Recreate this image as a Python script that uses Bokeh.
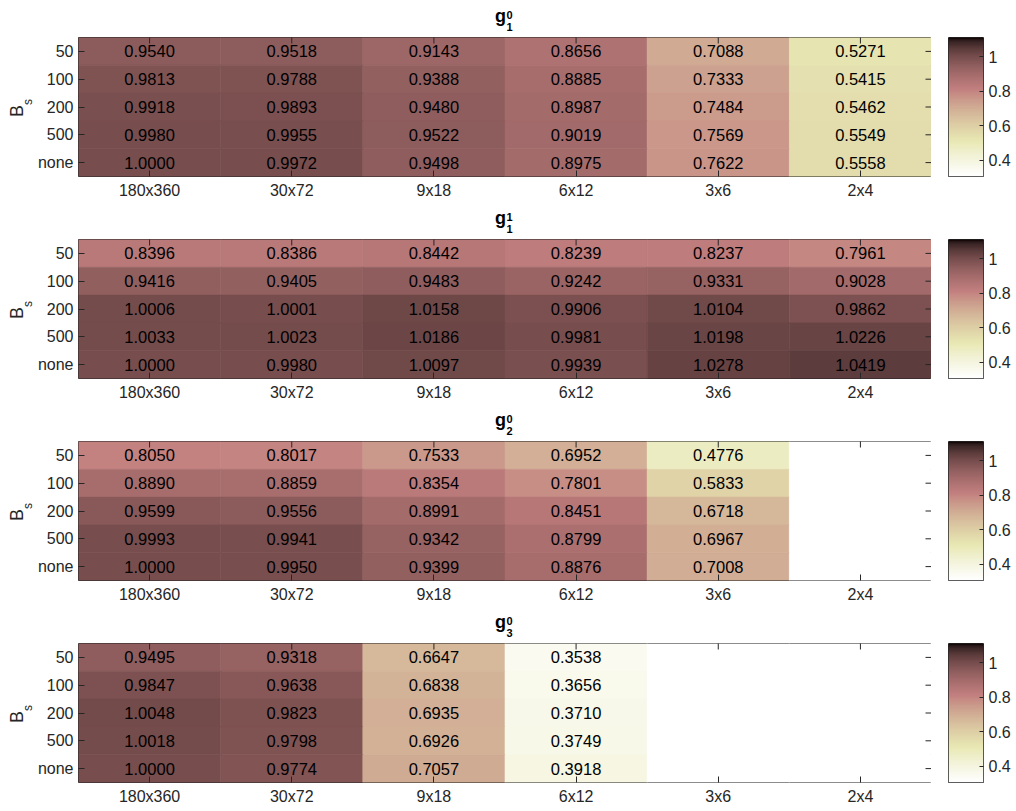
import numpy as np
from bokeh.plotting import figure
from bokeh.models import (FactorRange, Range1d, LinearColorMapper, ColumnDataSource,
                          FixedTicker, CustomJSTickFormatter, Div)
from bokeh.layouts import column, row
from bokeh.embed import file_html
from bokeh.resources import INLINE
from bokeh.core.properties import value

nan = float("nan")

# ---------------- data ----------------
grids = ["180x360", "30x72", "9x18", "6x12", "3x6", "2x4"]
bs_labels = ["50", "100", "200", "500", "none"]

g1_0 = [[0.9540, 0.9518, 0.9143, 0.8656, 0.7088, 0.5271],
        [0.9813, 0.9788, 0.9388, 0.8885, 0.7333, 0.5415],
        [0.9918, 0.9893, 0.9480, 0.8987, 0.7484, 0.5462],
        [0.9980, 0.9955, 0.9522, 0.9019, 0.7569, 0.5549],
        [1.0000, 0.9972, 0.9498, 0.8975, 0.7622, 0.5558]]
g1_1 = [[0.8396, 0.8386, 0.8442, 0.8239, 0.8237, 0.7961],
        [0.9416, 0.9405, 0.9483, 0.9242, 0.9331, 0.9028],
        [1.0006, 1.0001, 1.0158, 0.9906, 1.0104, 0.9862],
        [1.0033, 1.0023, 1.0186, 0.9981, 1.0198, 1.0226],
        [1.0000, 0.9980, 1.0097, 0.9939, 1.0278, 1.0419]]
g2_0 = [[0.8050, 0.8017, 0.7533, 0.6952, 0.4776, nan],
        [0.8890, 0.8859, 0.8354, 0.7801, 0.5833, nan],
        [0.9599, 0.9556, 0.8991, 0.8451, 0.6718, nan],
        [0.9993, 0.9941, 0.9342, 0.8799, 0.6967, nan],
        [1.0000, 0.9950, 0.9399, 0.8876, 0.7008, nan]]
g3_0 = [[0.9495, 0.9318, 0.6647, 0.3538, nan, nan],
        [0.9847, 0.9638, 0.6838, 0.3656, nan, nan],
        [1.0048, 0.9823, 0.6935, 0.3710, nan, nan],
        [1.0018, 0.9798, 0.6926, 0.3749, nan, nan],
        [1.0000, 0.9774, 0.7057, 0.3918, nan, nan]]

panels = [g1_0, g1_1, g2_0, g3_0]
title_sub = ["1", "1", "2", "3"]
title_sup = ["0", "1", "0", "0"]

clim_low, clim_high = 0.307, 1.11
cbar_ticks = [0.4, 0.6, 0.8, 1.0]

# ---------------- colormap: MATLAB pink, flipped ----------------
def pink_palette(m=256):
    n = int(3 / 8 * m)
    gray = np.arange(m) / (m - 1)
    r = np.concatenate([np.arange(1, n + 1) / n, np.ones(m - n)])
    g = np.concatenate([np.zeros(n), np.arange(1, n + 1) / n, np.ones(m - 2 * n)])
    b = np.concatenate([np.zeros(2 * n), np.arange(1, m - 2 * n + 1) / (m - 2 * n)])
    hot = np.stack([r, g, b], axis=1)
    pk = np.sqrt((2 * gray[:, None] + hot) / 3)
    return ["#%02x%02x%02x" % tuple(int(round(c * 255)) for c in rgb) for rgb in pk]

palette = pink_palette()[::-1]
mapper = LinearColorMapper(palette=palette, low=clim_low, high=clim_high, nan_color="white")

FONT = "Liberation Sans"
TXT = "#262626"
FW, FH = 853, 139
TOP = 4          # figure border above frame
BOTTOM = 26      # figure border below frame
TITLE_H = 33     # height of title strip
YLAB_W = 34      # width of y-label strip
FIG_H = TOP + FH + BOTTOM


def style_axis(ax, standoff, tick_in=6):
    ax.major_tick_in = tick_in
    ax.major_tick_out = 0
    ax.minor_tick_line_color = None
    ax.axis_line_color = None
    ax.major_tick_line_color = TXT
    ax.major_label_text_font = FONT
    ax.major_label_text_font_size = "16px"
    ax.major_label_text_color = TXT
    ax.major_label_standoff = standoff


def heat_panel(vals):
    p = figure(x_range=FactorRange(factors=grids), y_range=FactorRange(factors=bs_labels[::-1]),
               frame_width=FW, frame_height=FH, min_border_left=77 - YLAB_W, min_border_right=0,
               min_border_top=TOP, min_border_bottom=BOTTOM,
               output_backend="svg", toolbar_location=None, tools="")
    xs, ys, vs = [], [], []
    tx, ty, tt = [], [], []
    for i, rlab in enumerate(bs_labels):
        for j, clab in enumerate(grids):
            v = vals[i][j]
            xs.append(clab); ys.append(rlab); vs.append(v)
            if not np.isnan(v):
                tx.append(clab); ty.append(rlab); tt.append("%.4f" % v)
    src = ColumnDataSource(dict(x=xs, y=ys, v=vs))
    p.rect(x="x", y="y", width=1, height=1, source=src,
           fill_color={"field": "v", "transform": mapper},
           line_color={"field": "v", "transform": mapper}, line_width=0.6)
    tsrc = ColumnDataSource(dict(x=tx, y=ty, t=tt))
    p.text(x="x", y="y", text="t", source=tsrc, text_align="center", text_baseline="middle",
           text_font=value(FONT), text_font_size="16.5px", text_color="black")

    # mirrored inward tick marks on the top and right edges (half of each dash is clipped)
    p.scatter(x=grids, y=[(bs_labels[0], 0.5)] * len(grids), marker="dash", size=12,
              angle=np.pi / 2, line_color=TXT, line_width=1)
    p.scatter(x=[(grids[-1], 0.5)] * len(bs_labels), y=bs_labels, marker="dash", size=12,
              line_color=TXT, line_width=1)

    p.grid.visible = False
    p.outline_line_color = TXT
    p.outline_line_width = 1
    style_axis(p.xaxis[0], 5)
    style_axis(p.yaxis[0], 5)
    return p


def cbar_panel():
    c = figure(x_range=Range1d(0, 1), y_range=Range1d(clim_low, clim_high),
               frame_width=35, frame_height=FH, min_border_left=17, min_border_right=32,
               min_border_top=TOP, min_border_bottom=BOTTOM,
               x_axis_location=None, y_axis_location="right",
               output_backend="svg", toolbar_location=None, tools="")
    grad = np.linspace(clim_low, clim_high, 256).reshape(256, 1)
    c.image(image=[grad], x=0, y=clim_low, dw=1, dh=clim_high - clim_low, color_mapper=mapper)
    c.grid.visible = False
    c.outline_line_color = TXT
    c.outline_line_width = 1
    ax = c.yaxis[0]
    style_axis(ax, 5, tick_in=4)
    ax.ticker = FixedTicker(ticks=cbar_ticks)
    ax.formatter = CustomJSTickFormatter(code="return String(Math.round(tick*10)/10);")
    return c


def title_div(sub, sup):
    base = f"position:absolute;font-family:'{FONT}';font-weight:bold;color:black;white-space:nowrap;"
    html = (f'<div style="position:relative;width:1000px;height:{TITLE_H}px;">'
            f'<span style="{base}right:{1000 - 506}px;top:7.3px;font-size:18px;line-height:18px;">g</span>'
            f'<span style="{base}left:506.5px;top:9.5px;font-size:11px;line-height:10px;">{sup}</span>'
            f'<span style="{base}left:506.5px;top:21.9px;font-size:11px;line-height:10px;">{sub}</span>'
            '</div>')
    return Div(text=html, width=1000, height=TITLE_H, margin=(0, 0, 0, 0))


def ylab_div():
    base = (f"position:absolute;font-family:'{FONT}';color:{TXT};white-space:nowrap;"
            "transform-origin:0 0;transform:rotate(-90deg);")
    html = (f'<div style="position:relative;width:{YLAB_W}px;height:{FIG_H}px;">'
            f'<span style="{base}left:7.8px;top:84px;font-size:18px;line-height:18px;">B</span>'
            f'<span style="{base}left:21.8px;top:72px;font-size:12px;line-height:12px;">s</span>'
            '</div>')
    return Div(text=html, width=YLAB_W, height=FIG_H, margin=(0, 0, 0, 0))


blocks = []
for k, vals in enumerate(panels):
    blocks.append(title_div(title_sub[k], title_sup[k]))
    blocks.append(row(ylab_div(), heat_panel(vals), cbar_panel()))

layout = column(*blocks)
open("out.html", "w").write(file_html(layout, INLINE))
